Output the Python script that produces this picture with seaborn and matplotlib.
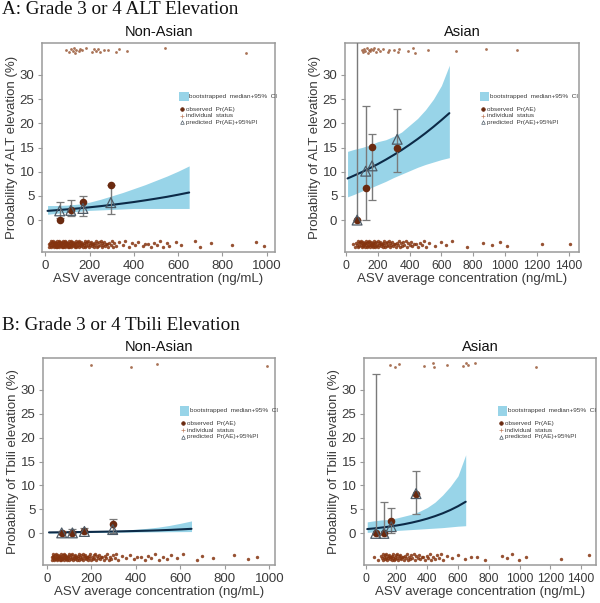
import numpy as np
import pandas as pd
import seaborn as sns
import matplotlib.pyplot as plt
from matplotlib.patches import Rectangle

# ---- model curve grid (ng/mL) ----
conc_grid = [10, 50, 100, 150, 200, 250, 300, 350, 400, 450, 500, 550, 600, 650]

# bootstrapped median + 95% CI (%), ALT
alt_na_med = [1.9, 2.04, 2.22, 2.42, 2.64, 2.88, 3.14, 3.43, 3.73, 4.07, 4.43, 4.81, 5.24, 5.7]
alt_na_hi = [3.0, 3.0, 3.1, 3.3, 3.7, 4.3, 5.0, 5.7, 6.5, 7.3, 8.2, 9.1, 10.1, 11.2]
alt_na_lo = [1.2, 1.4, 1.6, 1.8, 2.0, 2.1, 2.2, 2.3, 2.4, 2.4, 2.4, 2.4, 2.4, 2.4]
alt_as_med = [8.6, 9.18, 9.92, 10.72, 11.57, 12.48, 13.45, 14.48, 15.58, 16.74, 17.97, 19.28, 20.66, 22.1]
alt_as_hi = [14.2, 14.6, 15.0, 15.5, 16.2, 16.6, 17.3, 18.2, 19.6, 21.0, 22.8, 25.0, 27.8, 32.0]
alt_as_lo = [4.8, 5.3, 6.0, 6.6, 7.3, 8.0, 8.8, 9.5, 10.2, 10.9, 11.5, 12.0, 12.5, 12.9]

# Tbili
tb_na_med = [0.2, 0.22, 0.25, 0.28, 0.31, 0.35, 0.39, 0.44, 0.5, 0.56, 0.63, 0.72, 0.83, 0.95]
tb_na_hi = [0.35, 0.35, 0.37, 0.4, 0.45, 0.5, 0.58, 0.7, 0.85, 1.05, 1.3, 1.65, 2.1, 2.6]
tb_na_lo = [0.08, 0.1, 0.12, 0.15, 0.18, 0.2, 0.23, 0.26, 0.28, 0.3, 0.32, 0.34, 0.36, 0.38]
tb_as_med = [0.9, 1.02, 1.2, 1.4, 1.64, 1.92, 2.25, 2.63, 3.07, 3.59, 4.18, 4.87, 5.67, 6.6]
tb_as_hi = [2.4, 2.6, 2.8, 2.9, 3.2, 3.6, 4.0, 4.6, 5.4, 6.5, 8.0, 9.8, 12.0, 16.4]
tb_as_lo = [0.2, 0.3, 0.4, 0.5, 0.6, 0.7, 0.8, 0.9, 1.0, 1.1, 1.2, 1.35, 1.5, 1.6]

# ---- binned observed / predicted (%) ----
alt_na_bin = [65, 115, 170, 296]
alt_na_obs = [0, 2.1, 3.7, 7.2]
alt_na_pred = [1.9, 2.0, 2.4, 3.6]
alt_na_pilo = [0.5, 0.8, 0.8, 1.2]
alt_na_pihi = [3.8, 4.1, 5.0, 7.2]

alt_as_bin = [70, 124, 164, 322]
alt_as_obs = [0, 6.7, 15.1, 14.8]
alt_as_pred = [0, 10.1, 11.2, 16.7]
alt_as_pilo = [0, 0, 4.1, 9.9]
alt_as_pihi = [40, 23.5, 17.8, 23.0]

tb_na_bin = [67, 115, 169, 296]
tb_na_obs = [0, 0, 0.5, 1.9]
tb_na_pred = [0.1, 0.1, 0.4, 0.8]
tb_na_pilo = [0, 0, 0, 0]
tb_na_pihi = [0.5, 1.0, 1.2, 3.0]

tb_as_bin = [65, 118, 166, 327]
tb_as_obs = [0, 0, 2.6, 8.3]
tb_as_pred = [0, 0, 1.4, 8.3]
tb_as_pilo = [0, 0, 0.1, 4.0]
tb_as_pihi = [33.3, 6.6, 5.4, 13.1]

# ---- individual status: concentrations of patients with / without event ----
alt_na_evt = [95, 105, 116, 123, 128, 134, 140, 150, 158, 165, 185, 210, 221, 230, 236,
              245, 263, 285, 320, 335, 371, 540, 908]
alt_na_none = [15, 18, 20, 22, 24, 26, 28, 30, 31, 33, 35, 37, 38, 40, 42, 44, 45, 47, 48,
               50, 52, 54, 55, 57, 58, 60, 61, 63, 64, 66, 67, 69, 70, 72, 73, 75, 76, 78,
               79, 81, 82, 84, 85, 87, 88, 90, 92, 94, 95, 97, 98, 100, 102, 104, 105, 107,
               108, 110, 112, 114, 115, 117, 118, 120, 122, 124, 126, 128, 130, 132, 134,
               136, 138, 140, 142, 144, 146, 148, 150, 153, 155, 158, 160, 163, 165, 168,
               170, 173, 175, 178, 180, 183, 186, 189, 192, 195, 198, 201, 204, 207, 210,
               213, 216, 219, 222, 225, 228, 232, 235, 239, 242, 246, 250, 254, 258, 262,
               266, 270, 275, 280, 285, 290, 295, 300, 305, 312, 318, 335, 350,
               362, 378, 392, 405, 420, 440, 452, 465, 478, 490, 505, 520, 532, 548, 560,
               590, 612, 675, 700, 748, 845, 950, 990]

alt_as_evt = [100, 108, 115, 122, 130, 138, 145, 152, 160, 168, 178, 190, 200, 212, 232,
              262, 270, 300, 326, 335, 388, 424, 432, 513, 693, 882, 1077]
alt_as_none = [46, 60, 66, 70, 74, 78, 82, 85, 88, 92, 95, 98, 102, 105, 108, 110, 113,
               116, 119, 122, 125, 128, 131, 134, 137, 140, 143, 146, 149, 152, 155, 158,
               161, 164, 167, 170, 173, 176, 179, 182, 185, 188, 192, 195, 199, 202, 206,
               210, 214, 218, 222, 226, 230, 234, 238, 242, 246, 250, 255, 260, 265, 270,
               275, 280, 285, 290, 295, 300, 306, 312, 318, 325, 332, 338, 345, 352, 360,
               368, 376, 385, 392, 400, 410, 418, 430, 440, 452, 465, 478, 490, 505, 523,
               560, 600, 627, 667, 759, 862, 921, 968, 1010, 1232, 1406]

tb_na_evt = [198, 379, 497, 988]
tb_na_none = [22, 24, 26, 28, 30, 32, 34, 36, 38, 40, 42, 44, 46, 48, 50, 52, 54, 56, 58,
              60, 62, 64, 66, 68, 70, 72, 74, 76, 78, 80, 82, 84, 86, 88, 90, 92, 95, 97,
              100, 102, 105, 107, 110, 112, 115, 117, 120, 122, 125, 127, 130, 132, 135,
              138, 140, 143, 146, 149, 152, 155, 158, 161, 164, 167, 170, 173, 176, 179,
              182, 185, 188, 191, 195, 198, 202, 206, 210, 214, 218, 222, 226, 230, 235,
              240, 245, 250, 255, 260, 265, 272, 278, 285, 290, 298, 305, 313, 322,
              338, 355, 372, 390, 405, 422, 440, 455, 470, 488, 505, 522, 540, 560, 585,
              612, 673, 695, 745, 842, 904, 943]

tb_as_evt = [157, 190, 218, 380, 435, 444, 526, 634, 652, 662, 709, 1110]
tb_as_none = [54, 82, 98, 105, 111, 115, 119, 123, 127, 131, 135, 139, 143, 147, 151, 156,
              160, 164, 168, 172, 176, 180, 185, 189, 193, 197, 201, 206, 211, 216, 221,
              226, 231, 236, 242, 248, 254, 260, 266, 273, 280, 288, 296, 304, 312, 320,
              329, 337, 345, 355, 365, 375, 385, 396, 406, 416, 427, 440, 452, 465, 478,
              491, 504, 528, 560, 599, 645, 687, 725, 774, 883, 920, 952, 995, 1041,
              1270, 1453]

jitter = [0.0, -0.45, 0.3, -0.15, 0.55, -0.6, 0.15, -0.3, 0.45, -0.05, 0.6, -0.5, 0.2,
          -0.2, 0.4, -0.4, 0.05]

band_col = '#98d4e8'
line_col = '#0c2a47'
obs_col = '#6a2a10'
ind_col = '#85340f'
tri_col = '#4d5a66'
err_col = '#7a7a7a'
box_col = '#9a9a9a'
txt_col = '#3a3a3a'

sns.set_style('white')
plt.rcParams['font.family'] = ['Liberation Sans', 'DejaVu Sans']

fig = plt.figure(figsize=(6, 6.03), dpi=100)


def jittered(xs, base, scale):
    ys = [base + scale * jitter[i % len(jitter)] for i in range(len(xs))]
    return pd.DataFrame({'conc': xs, 'y': ys})


def draw_legend(ax, lx):
    ax.add_patch(Rectangle((lx, 0.722), 0.04, 0.044, transform=ax.transAxes,
                           facecolor=band_col, edgecolor='none'))
    ax.text(lx + 0.043, 0.744, 'bootstrapped  median+95%  CI', transform=ax.transAxes,
            fontsize=4.6, color=txt_col, va='center')
    rows = [('observed  Pr(AE)', 'o', obs_col, obs_col),
            ('individual  status', '+', '#c08060', '#c08060'),
            ('predicted  Pr(AE)+95%PI', '^', 'none', tri_col)]
    for k, (lab, mk, fc, ec) in enumerate(rows):
        yy = 0.684 - k * 0.032
        ax.plot([lx + 0.012], [yy], marker=mk, ms=2.6, mfc=fc, mec=ec, mew=0.5,
                transform=ax.transAxes, clip_on=False)
        ax.text(lx + 0.03, yy, lab, transform=ax.transAxes, fontsize=4.6,
                color=txt_col, va='center')


def draw_panel(rect, title, ylabel, xlim, xticks, xsize, med, lo, hi,
               bins, obs, pred, pilo, pihi, evt, none, lx):
    ax = fig.add_axes(rect)
    curve = pd.DataFrame({'conc': conc_grid, 'med': med})
    ax.fill_between(conc_grid, lo, hi, color=band_col, lw=0, zorder=1)
    sns.lineplot(data=curve, x='conc', y='med', color=line_col, lw=1.5, ax=ax, zorder=3)

    # individual status
    sns.scatterplot(data=jittered(none, -5.0, 1.1), x='conc', y='y', marker='o', s=6,
                    color=ind_col, linewidth=0, alpha=0.85, ax=ax, zorder=2)
    sns.scatterplot(data=jittered(evt, 35.1, 0.8), x='conc', y='y', marker='o', s=4,
                    color='#9a5a38', linewidth=0, alpha=0.85, ax=ax, zorder=2)

    # predicted with 95% PI
    pred = np.array(pred)
    ax.errorbar(bins, pred, yerr=[pred - np.array(pilo), np.array(pihi) - pred],
                fmt='none', ecolor=err_col, elinewidth=1.0, capsize=2.8, capthick=0.9,
                zorder=4)
    sns.scatterplot(x=bins, y=obs, color=obs_col, s=30, linewidth=0, ax=ax, zorder=5)
    ax.scatter(bins, pred, marker='^', s=50, facecolors='none', edgecolors=tri_col,
               linewidths=0.9, zorder=6)

    draw_legend(ax, lx)

    ax.set_xlim(*xlim)
    ax.set_ylim(-6.6, 36.6)
    ax.set_xticks(xticks)
    ax.set_yticks([0, 5, 10, 15, 20, 25, 30])
    ax.tick_params(direction='out', length=3, width=0.8, color=box_col,
                   labelsize=9.5, labelcolor=txt_col, pad=2.5, left=True, bottom=True)
    ax.tick_params(axis='x', labelsize=xsize)
    for sp in ax.spines.values():
        sp.set_color(box_col)
        sp.set_linewidth(1.1)
    ax.set_xlabel('ASV average concentration (ng/mL)', fontsize=9.5, color=txt_col,
                  labelpad=1)
    ax.set_ylabel(ylabel, fontsize=9.5, color=txt_col, labelpad=1)
    ax.set_title(title, fontsize=10.5, color='#111111', pad=5)
    return ax


H = 603.0
na_ticks = [0, 200, 400, 600, 800, 1000]
as_ticks = [0, 200, 400, 600, 800, 1000, 1200, 1400]

draw_panel([42 / 600, (H - 252) / H, 233 / 600, 209 / H], 'Non-Asian',
           'Probability of ALT elevation (%)', (-15, 1038), na_ticks, 9.5,
           alt_na_med, alt_na_lo, alt_na_hi, alt_na_bin, alt_na_obs, alt_na_pred,
           alt_na_pilo, alt_na_pihi, alt_na_evt, alt_na_none, 0.59)
draw_panel([345 / 600, (H - 252) / H, 234 / 600, 209 / H], 'Asian',
           'Probability of ALT elevation (%)', (-6, 1465), as_ticks, 8.8,
           alt_as_med, alt_as_lo, alt_as_hi, alt_as_bin, alt_as_obs, alt_as_pred,
           alt_as_pilo, alt_as_pihi, alt_as_evt, alt_as_none, 0.577)
draw_panel([43 / 600, (H - 565) / H, 232 / 600, 207 / H], 'Non-Asian',
           'Probability of Tbili elevation (%)', (-17, 1025), na_ticks, 9.5,
           tb_na_med, tb_na_lo, tb_na_hi, tb_na_bin, tb_na_obs, tb_na_pred,
           tb_na_pilo, tb_na_pihi, tb_na_evt, tb_na_none, 0.59)
draw_panel([364 / 600, (H - 565) / H, 232 / 600, 207 / H], 'Asian',
           'Probability of Tbili elevation (%)', (-11, 1497), as_ticks, 8.8,
           tb_as_med, tb_as_lo, tb_as_hi, tb_as_bin, tb_as_obs, tb_as_pred,
           tb_as_pilo, tb_as_pihi, tb_as_evt, tb_as_none, 0.578)

fig.text(0.003, 1 - 14 / H, 'A: Grade 3 or 4 ALT Elevation', family='Liberation Serif',
         fontsize=13.8, color='#111111', va='baseline')
fig.text(0.003, 1 - 330 / H, 'B: Grade 3 or 4 Tbili Elevation', family='Liberation Serif',
         fontsize=13.8, color='#111111', va='baseline')

fig.savefig('out.png', dpi=100, facecolor='white')
